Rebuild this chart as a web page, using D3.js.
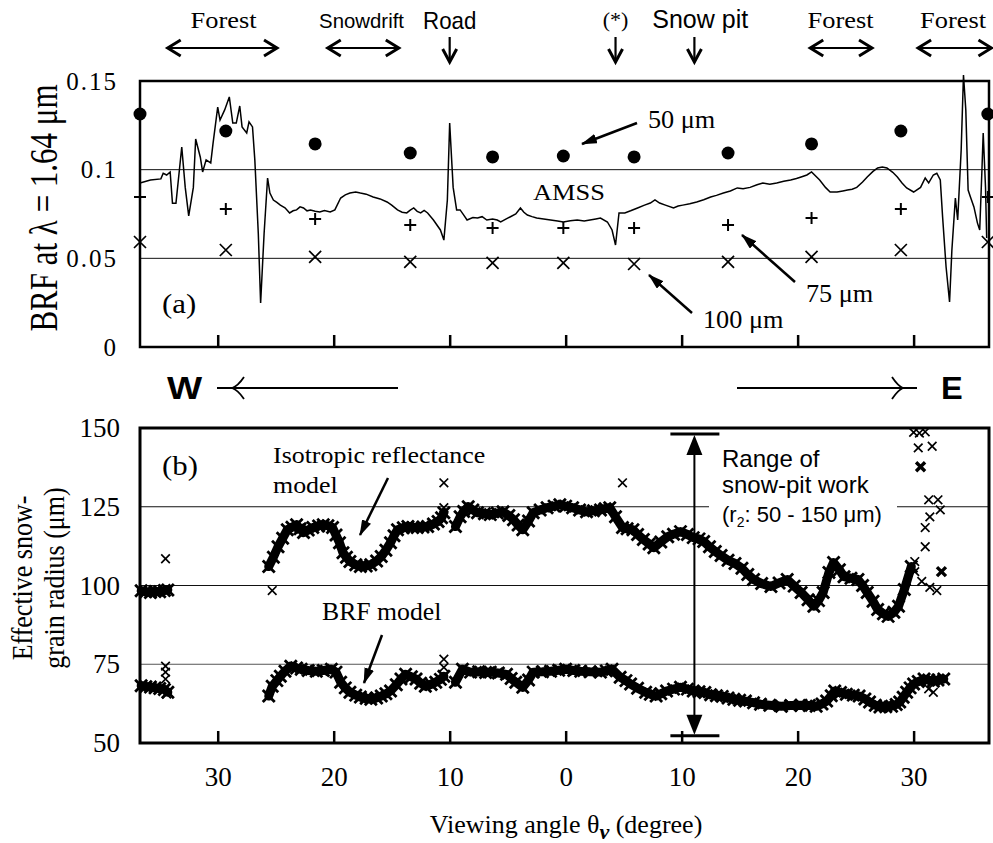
<!DOCTYPE html>
<html>
<head>
<meta charset="utf-8">
<script src="https://cdn.jsdelivr.net/npm/d3@7"></script>
<style>
  body { margin: 0; background: #fff; }
  svg { display: block; }
</style>
</head>
<body>
<div id="chart"></div>
<script>
// ---- data (viewing angle in degrees, west negative) ----
const tickAngles = [-30, -20, -10, 0, 10, 20, 30];
const brfTicks = [0, 0.05, 0.1, 0.15];
const radiusTicks = [50, 75, 100, 125, 150];
const brfGrid = [0.05, 0.1];
const radiusGrid = [75, 100, 125];

// AMSS measured BRF at 1.64 um
const amss = [
  [-36.7,0.0925],[-35.8,0.0942],[-34.9,0.0948],[-34.7,0.098],[-34.4,0.097],[-34.1,0.0987],
  [-33.9,0.081],[-33.6,0.081],[-33.1,0.1128],[-32.8,0.090],[-32.5,0.0739],[-32.1,0.090],
  [-31.9,0.1173],[-31.5,0.107],[-31.3,0.0987],[-31.0,0.1055],[-30.6,0.1038],[-30.4,0.115],
  [-30.0,0.1353],[-29.8,0.128],[-29.4,0.1337],[-29.0,0.141],[-28.7,0.1263],[-28.4,0.1263],
  [-28.1,0.1359],[-27.9,0.1241],[-27.5,0.1207],[-27.3,0.127],[-27.0,0.1241],[-26.8,0.1055],
  [-26.5,0.064],[-26.3,0.0248],[-26.0,0.064],[-25.7,0.0953],[-25.5,0.0868],[-25.2,0.0829],
  [-24.9,0.0815],[-24.6,0.080],[-24.2,0.0785],[-23.8,0.0756],[-23.5,0.0768],[-23.2,0.0773],
  [-22.9,0.0790],[-22.6,0.0784],[-22.3,0.0768],[-22.0,0.0773],[-21.6,0.0765],[-21.2,0.0761],
  [-20.8,0.0770],[-20.3,0.0761],[-19.9,0.0773],[-19.4,0.084],[-19.0,0.0858],[-18.6,0.0868],
  [-18.1,0.0874],[-17.7,0.0868],[-17.2,0.0862],[-16.6,0.0846],[-16.0,0.0835],[-15.4,0.0818],
  [-15.0,0.0800],[-14.5,0.0773],[-14.1,0.0760],[-13.7,0.0756],[-13.4,0.0772],[-13.1,0.0784],
  [-12.8,0.0765],[-12.5,0.0756],[-12.2,0.0770],[-11.9,0.0756],[-11.4,0.0716],[-10.8,0.066],
  [-10.5,0.0603],[-10.2,0.0829],[-10.0,0.1263],[-9.7,0.090],[-9.4,0.0773],[-9.1,0.0773],
  [-8.8,0.0745],[-8.5,0.0716],[-8.0,0.0730],[-7.6,0.0727],[-7.2,0.0735],[-6.8,0.0716],
  [-6.3,0.0722],[-5.9,0.0716],[-5.6,0.0705],[-5.2,0.0720],[-4.8,0.0733],[-4.3,0.0750],
  [-3.9,0.0784],[-3.6,0.0760],[-3.3,0.0744],[-2.9,0.0735],[-2.5,0.0727],[-1.9,0.0722],
  [-1.3,0.0716],[-0.7,0.0710],[-0.2,0.0705],[0.4,0.0712],[1.0,0.0716],[1.6,0.0710],
  [2.1,0.0716],[2.6,0.0722],[3.0,0.0727],[3.6,0.0705],[4.0,0.066],[4.3,0.0575],[4.6,0.0756],
  [5.1,0.0756],[5.6,0.0768],[6.2,0.0784],[6.8,0.0800],[7.3,0.0812],[7.7,0.0829],[8.1,0.0812],
  [8.6,0.080],[9.3,0.0784],[9.7,0.0795],[10.1,0.080],[10.7,0.0808],[11.3,0.0818],[11.9,0.0830],
  [12.5,0.0846],[13.0,0.0855],[13.6,0.0868],[14.2,0.0880],[14.8,0.0897],[15.3,0.0892],
  [15.9,0.090],[16.5,0.0915],[17.0,0.0925],[17.6,0.0918],[18.2,0.0925],[18.8,0.0935],
  [19.4,0.0942],[19.9,0.0950],[20.3,0.0959],[20.8,0.0970],[21.2,0.0987],[21.9,0.0942],
  [22.4,0.0900],[22.8,0.0874],[23.4,0.0874],[23.9,0.0880],[24.3,0.0885],[24.7,0.0890],
  [25.1,0.090],[25.6,0.0930],[26.0,0.0959],[26.5,0.0990],[26.9,0.101],[27.3,0.1015],
  [27.7,0.101],[28.2,0.0985],[28.6,0.0959],[29.0,0.0925],[29.4,0.0897],[30.0,0.0874],
  [30.6,0.090],[31.0,0.0953],[31.3,0.0925],[31.7,0.097],[32.0,0.098],[32.3,0.0942],
  [32.5,0.0733],[32.8,0.0451],[33.1,0.0254],[33.3,0.0547],[33.6,0.084],[33.8,0.0716],
  [34.1,0.111],[34.3,0.1534],[34.5,0.1337],[34.7,0.0885],[34.9,0.0846],[35.2,0.079],
  [35.5,0.070],[35.7,0.066],[35.9,0.1015],[36.0,0.1207],[36.2,0.090],[36.3,0.0615]
];

// model BRF for three grain radii
const modelAngles = [-36.7, -29.3, -21.6, -13.4, -6.3, -0.2, 5.9, 14.0, 21.2, 28.9, 36.4];
const model50 = [0.1314, 0.1218, 0.1145, 0.1094, 0.1072, 0.1077, 0.1072, 0.1094, 0.1145, 0.1218, 0.1314];
const model75 = [0.0846, 0.0778, 0.0722, 0.0688, 0.0671, 0.0671, 0.0671, 0.0688, 0.0727, 0.0778, 0.0846];
const model100 = [0.0592, 0.0547, 0.0508, 0.0480, 0.0474, 0.0474, 0.0468, 0.0480, 0.0508, 0.0547, 0.0592];

// retrieved grain radius, isotropic reflectance model
const isoWest = [[-36.6,98.3],[-36.2,98.0],[-35.8,97.8],[-35.4,98.1],[-35.0,98.0],[-34.6,98.4],[-34.3,98.6]];
const isoMid = [
  [-25.6,106.0],[-25.2,109.0],[-24.8,112.3],[-24.4,115.0],[-24.0,117.7],[-23.6,118.5],[-23.2,119.3],
  [-22.9,118.0],[-22.6,116.8],[-22.2,117.6],[-21.8,118.4],[-21.3,118.9],[-20.9,119.3],[-20.5,119.0],
  [-20.1,118.4],[-19.8,116.0],[-19.5,113.6],[-19.2,110.4],[-18.9,109.0],[-18.6,107.6],[-18.1,106.6],
  [-17.7,106.0],[-17.2,106.2],[-16.8,106.6],[-16.3,107.8],[-15.9,109.2],[-15.5,111.2],[-15.1,113.6],
  [-14.8,115.8],[-14.5,117.7],[-14.0,118.3],[-13.6,118.7],[-13.2,118.4],[-12.8,118.4],[-12.3,118.6],
  [-11.9,118.7],[-11.4,119.5],[-11.0,120.3],[-10.7,121.5],[-10.5,123.1]
];
const isoEast = [
  [-9.5,118.7],[-9.1,121.8],[-8.8,123.5],[-8.4,125.0],[-8.0,124.0],[-7.6,123.1],[-7.0,122.8],
  [-6.5,122.5],[-5.9,123.0],[-5.4,123.4],[-4.9,122.2],[-4.5,120.9],[-4.1,119.2],[-3.7,117.7],
  [-3.2,120.5],[-2.8,123.1],[-2.2,124.0],[-1.6,124.7],[-1.0,125.2],[-0.5,125.6],[0.0,125.2],
  [0.6,124.7],[1.2,124.0],[1.8,123.4],[2.4,123.7],[3.0,124.0],[3.4,124.4],[3.8,124.7],[4.3,121.8],
  [4.9,118.4],[5.3,118.0],[5.8,117.7],[6.2,116.2],[6.7,114.6],[7.2,113.2],[7.6,112.0],[8.2,113.8],
  [8.8,115.5],[9.3,116.3],[9.9,117.1],[10.5,116.2],[11.0,115.2],[11.5,114.8],[11.9,114.0],
  [12.4,112.3],[12.9,110.8],[13.4,109.5],[14.0,108.0],[14.6,107.0],[15.2,105.5],[15.7,103.5],
  [16.2,101.9],[16.9,100.6],[17.7,99.7],[18.4,100.8],[19.1,101.9],[19.7,99.8],[20.3,97.8],
  [20.9,95.5],[21.4,93.4],[21.8,95.2],[22.2,97.8],[22.7,104.1],[23.1,107.3],[23.6,105.0],
  [24.0,102.8],[24.6,102.3],[25.2,101.9],[25.6,100.0],[26.0,97.8],[26.5,95.0],[26.9,92.4],
  [27.4,91.0],[27.8,90.2],[28.3,91.5],[28.7,93.4],[29.2,98.7],[29.8,106.0]
];
const isoScatter = [
  [-34.5,108.5],[-25.3,98.4],[-10.5,132.6],[-10.5,124.7],[4.9,132.6],[30.1,107.6],[30.1,104.4],
  [30.0,148.6],[30.5,148.4],[31.0,148.8],[30.4,143.7],[31.6,144.2],[31.3,127.2],[32.1,127.2],
  [31.4,121.8],[32.3,124.0],[31.0,118.4],[31.0,112.3],[30.7,101.3],[31.4,99.4],[32.0,98.4]
];
const isoScatterBold = [[30.6,137.7],[32.4,104.4]];

// retrieved grain radius, BRF model
const brfWest = [[-36.6,68.2],[-36.2,67.9],[-35.8,67.8],[-35.4,67.5],[-35.0,67.3],[-34.6,67.0],[-34.3,66.1]];
const brfMid = [
  [-25.6,64.9],[-25.3,68.0],[-24.9,69.8],[-24.6,71.2],[-24.2,72.8],[-23.7,74.4],[-23.2,73.8],
  [-22.8,73.4],[-22.2,73.0],[-21.5,72.8],[-20.9,73.0],[-20.2,73.4],[-19.8,72.5],[-19.4,69.3],
  [-19.0,67.5],[-18.6,66.1],[-18.1,65.2],[-17.7,64.6],[-17.2,64.2],[-16.8,63.9],[-16.3,64.3],
  [-15.9,64.9],[-15.5,65.6],[-15.1,66.5],[-14.6,68.5],[-14.2,70.3],[-13.8,71.8],[-13.3,71.0],
  [-12.9,70.3],[-12.5,69.0],[-12.1,68.0],[-11.6,68.6],[-11.2,69.3],[-10.8,70.2],[-10.5,71.2]
];
const brfEast = [
  [-9.5,69.3],[-8.9,73.4],[-8.2,72.5],[-7.5,72.6],[-6.9,72.4],[-6.5,72.5],[-5.8,72.2],[-5.1,71.8],
  [-4.7,70.5],[-4.3,69.3],[-3.7,67.7],[-3.2,70.0],[-2.8,72.5],[-2.0,72.6],[-1.3,72.8],[-0.6,73.1],
  [0.0,73.4],[0.7,73.0],[1.3,72.8],[2.1,72.6],[3.0,72.5],[3.5,72.9],[4.0,73.4],[4.7,70.9],
  [5.2,69.8],[5.6,68.7],[6.2,67.4],[6.9,66.1],[7.3,65.5],[7.8,64.9],[8.2,65.6],[8.7,66.5],
  [9.3,67.1],[9.9,67.7],[10.5,67.1],[11.0,66.5],[11.5,66.3],[12.0,66.0],[12.5,65.3],[13.0,65.0],
  [13.5,64.8],[14.0,64.3],[14.5,63.9],[15.0,63.6],[15.5,63.3],[16.2,62.8],[16.8,62.3],[17.6,62.0],
  [18.6,61.7],[19.4,61.9],[20.3,62.0],[21.0,61.9],[21.6,61.7],[22.1,62.4],[22.5,63.3],[22.9,65.0],
  [23.2,66.5],[23.7,66.0],[24.2,65.5],[24.8,65.2],[25.3,64.9],[25.8,64.0],[26.2,63.0],[26.7,62.0],
  [27.1,61.4],[27.6,61.5],[28.1,61.7],[28.5,62.2],[28.8,63.0],[29.1,64.5],[29.4,66.1],[29.7,67.5],
  [30.0,68.7],[30.4,69.5],[30.9,70.3],[31.3,70.0],[31.7,69.6],[32.1,70.0],[32.6,70.3]
];
const brfScatter = [[-34.5,74.4],[-34.5,72.5],[-34.5,70.3],[-34.4,65.5],[-10.5,76.6],[-10.5,74.0],[31.7,66.1],[31.3,67.2]];

// snow-pit range of r2
const pitAngle = 11.1;
const pitRange = [52.3, 148.1];

// ---- setup ----
const width = 993;
const height = 843;
const serif = "'Liberation Serif', 'Times New Roman', serif";
const sans = "'Liberation Sans', Arial, sans-serif";

const svg = d3.select("#chart").append("svg")
  .attr("width", width).attr("height", height)
  .style("background", "#fff");

const defs = svg.append("defs");
defs.append("marker")
  .attr("id", "tri")
  .attr("viewBox", "0 0 16 10")
  .attr("refX", 15).attr("refY", 5)
  .attr("markerWidth", 16).attr("markerHeight", 10)
  .attr("markerUnits", "userSpaceOnUse")
  .attr("orient", "auto")
  .append("path").attr("d", "M0,0L16,5L0,10Z").attr("fill", "#000");

const x = d3.scaleLinear().domain([-36.7, 36.5]).range([140, 989]);
const yA = d3.scaleLinear().domain([0, 0.15]).range([347, 81]);
const yB = d3.scaleLinear().domain([50, 150]).range([743, 428]);

const crossPath = (s) => `M${-s},${-s}L${s},${s}M${-s},${s}L${s},${-s}`;
const plusPath = (s) => `M${-s},0H${s}M0,${-s}V${s}`;

function txt(g, px, py, str, o = {}) {
  return g.append("text")
    .attr("transform", `translate(${px},${py}) scale(${o.sx ?? 1},1)`)
    .attr("text-anchor", o.anchor || "start")
    .attr("font-family", o.font || serif)
    .attr("font-size", o.size || 22)
    .attr("font-weight", o.weight || "normal")
    .attr("fill", "#000")
    .text(str);
}

// ---- panel (a) ----
const gA = svg.append("g");

gA.selectAll("line.grid").data(brfGrid).join("line")
  .attr("class", "grid")
  .attr("x1", x.range()[0]).attr("x2", x.range()[1])
  .attr("y1", (d) => yA(d)).attr("y2", (d) => yA(d))
  .attr("stroke", "#111").attr("stroke-width", 1);

gA.append("g")
  .attr("transform", `translate(0,${yA(0)})`)
  .call(d3.axisBottom(x).tickValues(tickAngles).tickSize(-12).tickFormat(""))
  .call((g) => g.select(".domain").remove())
  .call((g) => g.selectAll("line").attr("stroke", "#000").attr("stroke-width", 2.5));

gA.append("g")
  .attr("transform", `translate(${x.range()[0]},0)`)
  .call(d3.axisLeft(yA).tickValues(brfTicks).tickSize(0).tickPadding(22).tickFormat((d) => String(d)))
  .call((g) => g.select(".domain").remove())
  .call((g) => g.selectAll("text")
    .attr("font-family", serif).attr("font-size", 25)
    .attr("letter-spacing", 2).attr("fill", "#000"));

gA.append("path")
  .datum(amss)
  .attr("fill", "none").attr("stroke", "#000").attr("stroke-width", 1.5)
  .attr("d", d3.line().x((d) => x(d[0])).y((d) => yA(d[1])));

const modelPts = modelAngles.map((a, i) => ({ a, r50: model50[i], r75: model75[i], r100: model100[i] }));

gA.selectAll("circle.m50").data(modelPts).join("circle")
  .attr("class", "m50")
  .attr("cx", (d) => x(d.a)).attr("cy", (d) => yA(d.r50)).attr("r", 6.5)
  .attr("fill", "#000");

gA.selectAll("path.m75").data(modelPts).join("path")
  .attr("class", "m75")
  .attr("transform", (d) => `translate(${x(d.a)},${yA(d.r75)})`)
  .attr("d", plusPath(6)).attr("stroke", "#000").attr("stroke-width", 2);

gA.selectAll("path.m100").data(modelPts).join("path")
  .attr("class", "m100")
  .attr("transform", (d) => `translate(${x(d.a)},${yA(d.r100)})`)
  .attr("d", crossPath(6)).attr("stroke", "#000").attr("stroke-width", 1.7);

gA.append("rect")
  .attr("x", x.range()[0]).attr("y", yA(0.15))
  .attr("width", x.range()[1] - x.range()[0]).attr("height", yA(0) - yA(0.15))
  .attr("fill", "none").attr("stroke", "#000").attr("stroke-width", 2.5);

// panel (a) annotations
txt(gA, 162, 313, "(a)", { size: 28, sx: 1.1 });
txt(gA, 533, 200, "AMSS", { size: 24, sx: 1.1 });
txt(gA, 648, 128, "50 μm", { size: 25, sx: 1.05 });
txt(gA, 806, 302, "75 μm", { size: 25, sx: 1.05 });
txt(gA, 703, 328, "100 μm", { size: 25, sx: 1.05 });

const arrowsA = [
  [637, 123, 582, 144],
  [795, 282, 742, 235],
  [692, 313, 649, 275]
];
gA.selectAll("line.ann").data(arrowsA).join("line")
  .attr("class", "ann")
  .attr("x1", (d) => d[0]).attr("y1", (d) => d[1])
  .attr("x2", (d) => d[2]).attr("y2", (d) => d[3])
  .attr("stroke", "#000").attr("stroke-width", 2.5)
  .attr("marker-end", "url(#tri)");

svg.append("text")
  .attr("transform", "translate(57,208) scale(1.3,1) rotate(-90)")
  .attr("text-anchor", "middle")
  .attr("font-family", serif).attr("font-size", 31)
  .text("BRF at λ = 1.64 μm");

// ---- top labels ----
const gTop = svg.append("g");

function doubleArrow(a1, a2, yy) {
  const x1 = x(a1), x2 = x(a2);
  gTop.append("line").attr("x1", x1).attr("x2", x2).attr("y1", yy).attr("y2", yy)
    .attr("stroke", "#000").attr("stroke-width", 2.2);
  gTop.append("path").attr("d", `M${x1 + 14},${yy - 8}L${x1 + 1},${yy}L${x1 + 14},${yy + 8}`)
    .attr("fill", "none").attr("stroke", "#000").attr("stroke-width", 3);
  gTop.append("path").attr("d", `M${x2 - 14},${yy - 8}L${x2 - 1},${yy}L${x2 - 14},${yy + 8}`)
    .attr("fill", "none").attr("stroke", "#000").attr("stroke-width", 3);
}
function downArrow(a) {
  const xx = x(a);
  gTop.append("line").attr("x1", xx).attr("x2", xx).attr("y1", 37).attr("y2", 61)
    .attr("stroke", "#000").attr("stroke-width", 2.2);
  gTop.append("path").attr("d", `M${xx - 7},${49}L${xx},${62}L${xx + 7},${49}`)
    .attr("fill", "none").attr("stroke", "#000").attr("stroke-width", 3);
}

txt(gTop, x(-29.5), 28, "Forest", { size: 24, anchor: "middle", sx: 1.1 });
doubleArrow(-34.4, -24.8, 48);
txt(gTop, x(-17.6), 28, "Snowdrift", { size: 21, anchor: "middle", font: sans, sx: 0.97 });
doubleArrow(-20.6, -14.3, 48);
txt(gTop, x(-10.0), 29, "Road", { size: 24, anchor: "middle", font: sans, sx: 0.93 });
downArrow(-10.0);
txt(gTop, x(4.3), 27, "(*)", { size: 22, anchor: "middle" });
downArrow(4.3);
txt(gTop, x(11.6), 28, "Snow pit", { size: 25, anchor: "middle", font: sans });
downArrow(11.1);
txt(gTop, x(23.7), 28, "Forest", { size: 24, anchor: "middle", sx: 1.1 });
doubleArrow(21.0, 26.5, 48);
txt(gTop, x(33.4), 28, "Forest", { size: 24, anchor: "middle", sx: 1.1 });
doubleArrow(30.3, 36.8, 48);

// W / E direction arrows
const gDir = svg.append("g");
txt(gDir, 167, 399, "W", { size: 31, font: sans, weight: 900, sx: 1.2 });
gDir.append("line").attr("x1", 217).attr("x2", 398).attr("y1", 388).attr("y2", 388)
  .attr("stroke", "#000").attr("stroke-width", 1.8);
gDir.append("path").attr("d", "M244,377Q238,386 232,388Q238,390 244,399")
  .attr("fill", "none").attr("stroke", "#000").attr("stroke-width", 1.8);
txt(gDir, 941, 399, "E", { size: 31, font: sans, weight: 900, sx: 1.05 });
gDir.append("line").attr("x1", 737).attr("x2", 917).attr("y1", 388).attr("y2", 388)
  .attr("stroke", "#000").attr("stroke-width", 1.8);
gDir.append("path").attr("d", "M892,377Q898,386 903,388Q898,390 892,399")
  .attr("fill", "none").attr("stroke", "#000").attr("stroke-width", 1.8);

// ---- panel (b) ----
const gB = svg.append("g");

gB.selectAll("line.grid").data(radiusGrid).join("line")
  .attr("class", "grid")
  .attr("x1", x.range()[0]).attr("x2", x.range()[1])
  .attr("y1", (d) => yB(d)).attr("y2", (d) => yB(d))
  .attr("stroke", (d) => (d === 75 ? "#555" : "#111")).attr("stroke-width", 1);

// white box behind the snow-pit note breaks the 125 line
gB.append("rect").attr("x", 709).attr("y", 450).attr("width", 188).attr("height", 80).attr("fill", "#fff");

gB.append("g")
  .attr("transform", `translate(0,${yB(50)})`)
  .call(d3.axisBottom(x).tickValues(tickAngles).tickSize(-12).tickPadding(24).tickFormat((d) => Math.abs(d)))
  .call((g) => g.select(".domain").remove())
  .call((g) => g.selectAll("line").attr("stroke", "#000").attr("stroke-width", 2.5))
  .call((g) => g.selectAll("text").attr("font-family", serif).attr("font-size", 27).attr("fill", "#000"));

gB.append("g")
  .attr("transform", `translate(${x.range()[0]},0)`)
  .call(d3.axisLeft(yB).tickValues(radiusTicks).tickSize(0).tickPadding(20))
  .call((g) => g.select(".domain").remove())
  .call((g) => g.selectAll("text").attr("font-family", serif).attr("font-size", 27).attr("fill", "#000"));

const bandLine = d3.line().x((d) => x(d[0])).y((d) => yB(d[1]));
const bands = [isoWest, isoMid, isoEast, brfWest, brfMid, brfEast];

gB.selectAll("path.band").data(bands).join("path")
  .attr("class", "band")
  .attr("d", bandLine)
  .attr("fill", "none").attr("stroke", "#000").attr("stroke-width", 9)
  .attr("stroke-linejoin", "round").attr("stroke-linecap", "round");

gB.selectAll("path.bandpt").data(bands.flat()).join("path")
  .attr("class", "bandpt")
  .attr("transform", (d) => `translate(${x(d[0])},${yB(d[1])})`)
  .attr("d", crossPath(6)).attr("stroke", "#000").attr("stroke-width", 2.8);

gB.selectAll("path.scat").data(isoScatter.concat(brfScatter)).join("path")
  .attr("class", "scat")
  .attr("transform", (d) => `translate(${x(d[0])},${yB(d[1])})`)
  .attr("d", crossPath(4.3)).attr("stroke", "#000").attr("stroke-width", 1.7);

gB.selectAll("path.scatb").data(isoScatterBold).join("path")
  .attr("class", "scatb")
  .attr("transform", (d) => `translate(${x(d[0])},${yB(d[1])})`)
  .attr("d", crossPath(4.5)).attr("stroke", "#000").attr("stroke-width", 3.4);

// snow-pit range bar
const px = x(pitAngle);
const yLo = yB(pitRange[0]);
const yHi = yB(pitRange[1]);
gB.append("line").attr("x1", px).attr("x2", px).attr("y1", yHi + 18).attr("y2", yLo - 18)
  .attr("stroke", "#000").attr("stroke-width", 2);
gB.append("path").attr("d", `M${px},${yHi + 1}L${px - 8},${yHi + 21}L${px + 8},${yHi + 21}Z`).attr("fill", "#000");
gB.append("path").attr("d", `M${px},${yLo - 1}L${px - 8},${yLo - 21}L${px + 8},${yLo - 21}Z`).attr("fill", "#000");
gB.selectAll("line.cap").data([yHi, yLo]).join("line")
  .attr("class", "cap")
  .attr("x1", px - 24).attr("x2", px + 25)
  .attr("y1", (d) => d).attr("y2", (d) => d)
  .attr("stroke", "#000").attr("stroke-width", 3);

gB.append("rect")
  .attr("x", x.range()[0]).attr("y", yB(150))
  .attr("width", x.range()[1] - x.range()[0]).attr("height", yB(50) - yB(150))
  .attr("fill", "none").attr("stroke", "#000").attr("stroke-width", 3);

// panel (b) annotations
txt(gB, 162, 475, "(b)", { size: 28, sx: 1.1 });
txt(gB, 273, 463, "Isotropic reflectance", { size: 24, sx: 1.08 });
txt(gB, 273, 493, "model", { size: 24, sx: 1.08 });
txt(gB, 322, 620, "BRF model", { size: 25, sx: 1.03 });
txt(gB, 722, 467, "Range of", { size: 24, font: sans });
txt(gB, 722, 493, "snow-pit work", { size: 24, font: sans });
const rt = txt(gB, 722, 522, "(r", { size: 22, font: sans });
rt.append("tspan").attr("font-size", 14).attr("dy", 5).text("2");
rt.append("tspan").attr("dy", -5).text(": 50 - 150 μm)");

const arrowsB = [
  [388, 478, 360, 535],
  [382, 635, 364, 683]
];
gB.selectAll("line.ann").data(arrowsB).join("line")
  .attr("class", "ann")
  .attr("x1", (d) => d[0]).attr("y1", (d) => d[1])
  .attr("x2", (d) => d[2]).attr("y2", (d) => d[3])
  .attr("stroke", "#000").attr("stroke-width", 2.5)
  .attr("marker-end", "url(#tri)");

svg.append("text")
  .attr("transform", "translate(32,578) scale(1.15,1) rotate(-90)")
  .attr("text-anchor", "middle")
  .attr("font-family", serif).attr("font-size", 26)
  .text("Effective snow-");
svg.append("text")
  .attr("transform", "translate(64,578) scale(1.15,1) rotate(-90)")
  .attr("text-anchor", "middle")
  .attr("font-family", serif).attr("font-size", 26)
  .text("grain radius (μm)");

const xt = svg.append("text")
  .attr("x", 566).attr("y", 833)
  .attr("text-anchor", "middle")
  .attr("font-family", serif).attr("font-size", 26)
  .text("Viewing angle θ");
xt.append("tspan").attr("font-style", "italic").attr("font-weight", "bold").attr("font-size", 22).attr("dy", 6).text("ν");
xt.append("tspan").attr("dy", -6).text(" (degree)");
</script>
</body>
</html>
